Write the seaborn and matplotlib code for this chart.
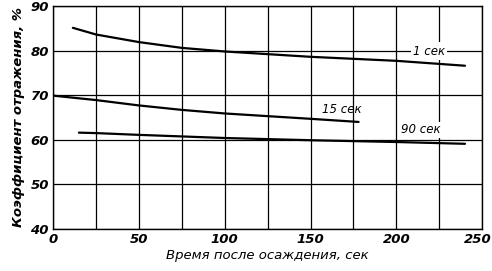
import matplotlib
matplotlib.use("Agg")
import matplotlib.pyplot as plt
import matplotlib.transforms as mtransforms
import seaborn as sns
import pandas as pd

# Data
x_1s = [11.5, 25, 50, 75, 100, 150, 200, 240]
y_1s = [85.1, 83.6, 81.9, 80.6, 79.8, 78.6, 77.7, 76.6]
x_15s = [0, 25, 50, 75, 100, 150, 178]
y_15s = [69.9, 68.9, 67.7, 66.7, 65.9, 64.7, 64.0]
x_90s = [15, 25, 50, 100, 150, 200, 240]
y_90s = [61.6, 61.5, 61.1, 60.4, 59.9, 59.5, 59.1]
series_labels = ["1 сек", "15 сек", "90 сек"]
x_ticks = [0, 50, 100, 150, 200, 250]
y_ticks = [40, 50, 60, 70, 80, 90]
x_label = "Время после осаждения, сек"
y_label = "Коэффициент отражения, %"

sns.set_theme(style="white")
plt.rcParams['font.family'] = ['DejaVu Sans']
plt.rcParams['text.color'] = 'black'
plt.rcParams['axes.labelcolor'] = 'black'
plt.rcParams['xtick.color'] = 'black'
plt.rcParams['ytick.color'] = 'black'

df = pd.concat([
    pd.DataFrame({"x": x_1s, "y": y_1s, "s": series_labels[0]}),
    pd.DataFrame({"x": x_15s, "y": y_15s, "s": series_labels[1]}),
    pd.DataFrame({"x": x_90s, "y": y_90s, "s": series_labels[2]}),
])

fig = plt.figure(figsize=(4.92, 2.71), dpi=100)
ax = fig.add_axes([0.108, 0.155, 0.872, 0.823])

for s in series_labels:
    sns.lineplot(data=df[df.s == s], x="x", y="y", ax=ax, color="black",
                 linewidth=1.6, legend=False, zorder=3)

ax.set_xlim(0, 250)
ax.set_ylim(40, 90)
ax.set_xticks(x_ticks)
ax.set_xticks([25, 75, 125, 175, 225], minor=True)
ax.set_yticks(y_ticks)
ax.grid(True, which="both", color="black", linewidth=0.9)
for sp in ax.spines.values():
    sp.set_color("black")
    sp.set_linewidth(1.0)
ax.tick_params(axis="both", which="both", length=0, pad=3, labelsize=9.5,
               labelcolor="black")
for lab in ax.get_xticklabels() + ax.get_yticklabels():
    lab.set_fontstyle("italic")
    lab.set_fontweight("bold")
last = ax.get_xticklabels()[-1]
last.set_transform(last.get_transform() +
                   mtransforms.ScaledTranslation(-4 / 100, 0, fig.dpi_scale_trans))

ax.set_xlabel(x_label, fontsize=9.5, fontstyle="italic", labelpad=2, color="black")
ax.set_ylabel(y_label, fontsize=9.5, fontstyle="italic", fontweight="bold",
              labelpad=4, color="black")

ax.text(219, 79.9, series_labels[0], fontsize=8.5, fontstyle="italic",
        ha="center", va="center", zorder=4, color="black",
        bbox=dict(facecolor="white", edgecolor="none", pad=1.5))
ax.text(168, 66.8, series_labels[1], fontsize=8.5, fontstyle="italic",
        ha="center", va="center", zorder=4, color="black")
ax.text(214, 62.2, series_labels[2], fontsize=8.5, fontstyle="italic",
        ha="center", va="center", zorder=4, color="black",
        bbox=dict(facecolor="white", edgecolor="none", pad=1.0))

fig.savefig("out.png", dpi=100)
